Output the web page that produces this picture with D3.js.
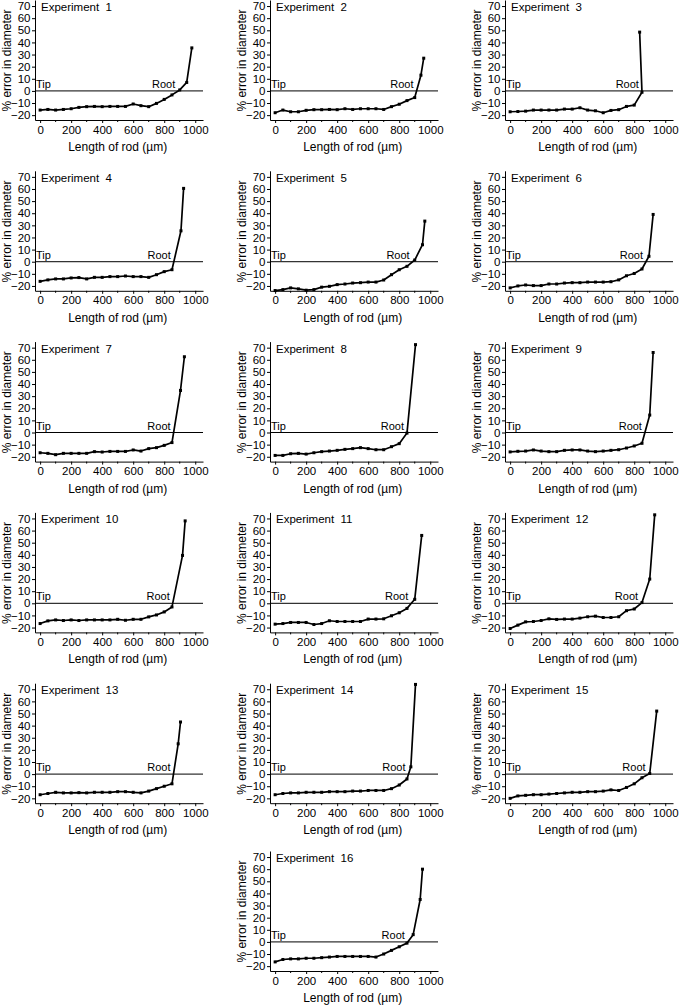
<!DOCTYPE html>
<html>
<head>
<meta charset="utf-8">
<script src="https://cdn.jsdelivr.net/npm/d3@7"></script>
<style>
  html, body { margin: 0; padding: 0; background: #fff; }
  svg text { font-family: "Liberation Sans", Arial, sans-serif; fill: #000; }
</style>
</head>
<body>
<svg id="chart" width="685" height="1006"></svg>
<script>
// ---------- data ----------
const exp1X  = [0,50,100,150,200,250,300,350,400,450,500,550,600,650,700,750,800,850,900,945,978];
const exp1Y  = [-15.8,-15.3,-15.8,-15.3,-14.7,-13.6,-13,-12.8,-13,-12.8,-12.8,-12.8,-10.8,-12.2,-13,-10.3,-7,-3.3,0.8,7,35.5];
const exp2X  = [0,50,100,150,200,250,300,350,400,450,500,550,600,650,700,750,800,850,900,940,958];
const exp2Y  = [-18,-15.8,-17.2,-17.2,-16,-15.5,-15.5,-15.3,-15.5,-14.7,-15.3,-14.7,-14.7,-14.7,-15.3,-13,-11,-8,-5.5,13,27];
const exp3X  = [0,50,100,150,200,250,300,350,400,450,500,550,600,650,700,750,800,850,835];
const exp3Y  = [-17.2,-17,-16.7,-15.8,-15.8,-15.8,-15.8,-15,-15,-13.9,-15.8,-16.4,-18,-16.1,-15.5,-12.8,-11.7,-1.1,48.5];
const exp4X  = [0,50,100,150,200,250,300,350,400,450,500,550,600,650,700,750,800,850,908,925];
const exp4Y  = [-16.2,-15,-14.2,-14.2,-13.4,-13.1,-14.2,-12.9,-12.9,-12.3,-12.3,-11.8,-12.3,-12.3,-12.9,-10.7,-8.2,-6.6,25.5,60.5];
const exp5X  = [0,50,100,150,200,250,300,350,400,450,500,550,600,650,700,750,800,850,900,950,965];
const exp5Y  = [-23.8,-23,-21.6,-22.4,-23.5,-23,-21,-20.3,-18.9,-18.4,-17.6,-17.3,-16.8,-16.8,-15.1,-10.7,-6.6,-3.8,1.4,14,33.5];
const exp6X  = [0,50,100,150,200,250,300,350,400,450,500,550,600,650,700,750,800,850,895,922];
const exp6Y  = [-21.6,-20,-19.2,-19.7,-19.7,-18.4,-18.4,-17.6,-17.3,-17.3,-16.8,-16.8,-16.8,-16.5,-15,-11.6,-9.7,-6,4.5,39];
const exp7X  = [0,50,100,150,200,250,300,350,400,450,500,550,600,650,700,750,800,850,905,930];
const exp7Y  = [-16.7,-17.2,-18.3,-17.2,-17.2,-17.2,-17.2,-15.8,-16.1,-15.6,-15.6,-15.6,-14.4,-15.3,-13.3,-12.5,-10.6,-8.3,34.7,62.5];
const exp8X  = [0,50,100,150,200,250,300,350,400,450,500,550,600,650,700,750,800,850,905];
const exp8Y  = [-18.9,-18.9,-17.5,-17.2,-17.8,-16.7,-15.8,-15.3,-14.7,-13.9,-13.3,-12.5,-13.3,-14.2,-14.2,-11.7,-9.2,-0.5,72.5];
const exp9X  = [0,50,100,150,200,250,300,350,400,450,500,550,600,650,700,750,800,850,900,922];
const exp9Y  = [-16,-15.5,-15.3,-14.4,-15.3,-15.8,-15.8,-14.7,-14.4,-14.4,-15.3,-15.8,-15.3,-14.7,-14.2,-12.8,-11.1,-8.9,14.4,66];
const exp10X = [0,50,100,150,200,250,300,350,400,450,500,550,600,650,700,750,800,850,918,935];
const exp10Y = [-16.7,-14.5,-13.7,-14.2,-13.7,-14.2,-13.7,-13.7,-13.7,-13.7,-13.2,-14,-13.2,-13.2,-11.2,-9.6,-7.1,-3,39.5,68];
const exp11X = [0,50,100,150,200,250,300,350,400,450,500,550,600,650,700,750,800,850,900,945];
const exp11Y = [-17.2,-16.7,-15.8,-15.8,-15.8,-17.5,-16.7,-14.4,-15,-15,-15,-15,-13,-13,-12.8,-10.3,-7.8,-4.2,3.3,56];
const exp12X = [0,50,100,150,200,250,300,350,400,450,500,550,600,650,700,750,800,850,900,932];
const exp12Y = [-20.8,-18,-15.3,-15,-14.2,-12.8,-13.3,-13,-13,-12.2,-11.1,-10.6,-11.7,-11.7,-11.1,-6.1,-4.7,0.6,20,73];
const exp13X = [0,50,100,150,200,250,300,350,400,450,500,550,600,650,700,750,800,850,890,905];
const exp13Y = [-17,-16,-15,-15.5,-15.5,-15.3,-15.5,-15,-15,-15,-14.5,-14.5,-15,-15.5,-14,-12,-10,-8,25,43];
const exp14X = [0,50,100,150,200,250,300,350,400,450,500,550,600,650,700,750,800,850,875,905];
const exp14Y = [-17,-16,-15.5,-15.5,-15,-15,-15,-14.5,-14.5,-14.5,-14,-14,-13.5,-13.5,-13.5,-12,-9,-4,6,74];
const exp15X = [0,50,100,150,200,250,300,350,400,450,500,550,600,650,700,750,800,850,900,945];
const exp15Y = [-20,-18,-17.5,-17,-17,-16.5,-16,-15.5,-15,-15,-14.5,-14.5,-14,-13,-13.5,-11,-8,-3,0.5,52];
const exp16X = [0,50,100,150,200,250,300,350,400,450,500,550,600,650,700,750,800,850,890,935,950];
const exp16Y = [-16.5,-14.5,-14,-14,-13.5,-13.5,-13,-12.5,-12,-12,-12,-12,-12,-12.5,-10,-7,-4,-1,6,35,60];

const experimentNames = ["1","2","3","4","5","6","7","8","9","10","11","12","13","14","15","16"];
const yTicks = [-20,-10,0,10,20,30,40,50,60,70];
const xTicks = [0,200,400,600,800,1000];
const xMinorTicks = [100,300,500,700,900];
const xTitle = "Length of rod (\u00b5m)";
const yTitle = "% error in diameter";

const seriesX = [exp1X,exp2X,exp3X,exp4X,exp5X,exp6X,exp7X,exp8X,exp9X,exp10X,exp11X,exp12X,exp13X,exp14X,exp15X,exp16X];
const seriesY = [exp1Y,exp2Y,exp3Y,exp4Y,exp5Y,exp6Y,exp7Y,exp8Y,exp9Y,exp10Y,exp11Y,exp12Y,exp13Y,exp14Y,exp15Y,exp16Y];

// ---------- layout ----------
const svg = d3.select("#chart");
const colLeft = [35, 270, 505];
const rowTops = [0, 170.8, 341.6, 512.4, 683.2, 851];
const plotW = 168, plotH = 120;
const fontFam = "Liberation Sans, Arial, sans-serif";

experimentNames.forEach((name, i) => {
  const row = Math.floor(i / 3);
  const col = i === 15 ? 1 : i % 3;
  const left = colLeft[col];
  const top = rowTops[row];

  const x = d3.scaleLinear().domain([-33, 1050]).range([left, left + plotW]);
  const y = d3.scaleLinear().domain([-24, 75]).range([top + plotH, top]);

  const g = svg.append("g");

  // y axis
  const ya = g.append("g").attr("transform", `translate(${left},0)`)
    .call(d3.axisLeft(y).tickValues(yTicks).tickFormat(d3.format("d"))
      .tickSize(3).tickSizeOuter(0).tickPadding(1.5));
  ya.select(".domain").attr("stroke", "#000").attr("stroke-width", 1);
  ya.selectAll(".tick line").attr("stroke", "#000");
  ya.selectAll(".tick text").style("font-size", "11.5px").style("font-family", fontFam);

  // x axis
  const xa = g.append("g").attr("transform", `translate(0,${top + plotH})`)
    .call(d3.axisBottom(x).tickValues(xTicks).tickFormat(d3.format("d"))
      .tickSize(3).tickSizeOuter(0).tickPadding(2.5));
  xa.select(".domain").attr("stroke", "#000").attr("stroke-width", 1);
  xa.selectAll(".tick line").attr("stroke", "#000");
  xa.selectAll(".tick text").style("font-size", "11.5px").style("font-family", fontFam);
  g.append("g").selectAll("line").data(xMinorTicks).join("line")
    .attr("x1", d => x(d)).attr("x2", d => x(d))
    .attr("y1", top + plotH).attr("y2", top + plotH + 2)
    .attr("stroke", "#000").attr("stroke-width", 1);

  // zero line
  g.append("line")
    .attr("x1", left).attr("x2", left + plotW)
    .attr("y1", y(0)).attr("y2", y(0))
    .attr("stroke", "#000").attr("stroke-width", 1);

  // titles
  g.append("text")
    .attr("transform", `translate(${left - 28},${y(25)}) rotate(-90)`)
    .attr("text-anchor", "middle").attr("dy", "0.35em")
    .style("font-size", "12px")
    .text(yTitle);
  g.append("text")
    .attr("x", x(500)).attr("y", top + plotH + 31)
    .attr("text-anchor", "middle")
    .style("font-size", "12px")
    .text(xTitle);

  // experiment label (two spaces before the number)
  const lab = g.append("text")
    .attr("x", left + 6).attr("y", top + 11)
    .style("font-size", "11.5px");
  lab.append("tspan").text("Experiment");
  lab.append("tspan").attr("dx", "0.556em").text(name);

  // Tip / Root labels
  const xs = seriesX[i], ys = seriesY[i];
  const pts = xs.map((d, k) => [d, ys[k]]);
  let cross = xs[xs.length - 1];
  for (let k = 1; k < pts.length; k++) {
    if (pts[k - 1][1] < 0 && pts[k][1] >= 0) {
      const t = (0 - pts[k - 1][1]) / (pts[k][1] - pts[k - 1][1]);
      cross = pts[k - 1][0] + t * (pts[k][0] - pts[k - 1][0]);
      break;
    }
  }
  g.append("text").attr("x", left + 1).attr("y", y(0) - 3)
    .style("font-size", "11px").text("Tip");
  g.append("text").attr("x", x(cross) - 3).attr("y", y(0) - 3)
    .attr("text-anchor", "end")
    .style("font-size", "11px").text("Root");

  // line + markers
  const line = d3.line().x(d => x(d[0])).y(d => y(d[1]));
  g.append("path").datum(pts)
    .attr("d", line).attr("fill", "none")
    .attr("stroke", "#000").attr("stroke-width", 1.7).attr("stroke-linejoin", "round");
  g.append("g").selectAll("rect").data(pts).join("rect")
    .attr("x", d => x(d[0]) - 1.5).attr("y", d => y(d[1]) - 1.5)
    .attr("width", 3).attr("height", 3).attr("fill", "#000");
});
</script>
</body>
</html>
